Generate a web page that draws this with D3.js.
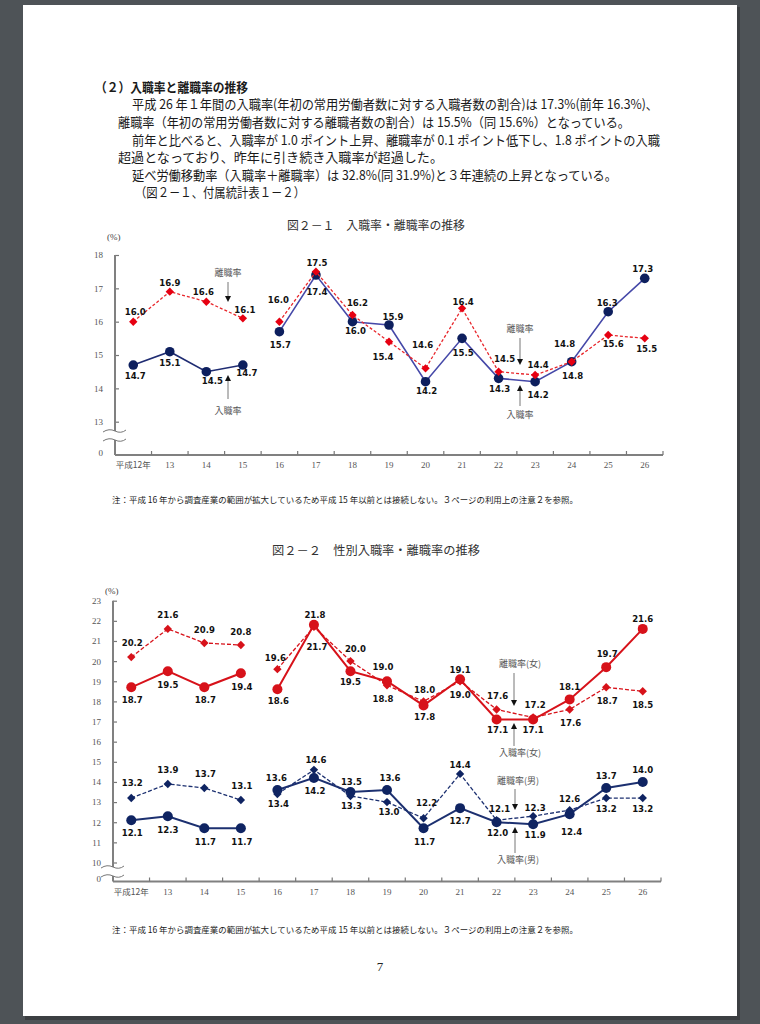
<!DOCTYPE html>
<html><head><meta charset="utf-8">
<script src="https://cdn.jsdelivr.net/npm/d3@7"></script>
<style>body{margin:0;background:#4e5357;} svg{display:block;}</style>
</head><body>
<svg id="c" width="760" height="1024"></svg>
<script>
// ---------------- data ----------------
const years = ["平成12年","13","14","15","16","17","18","19","20","21","22","23","24","25","26"];
const hireRate = [14.7,15.1,14.5,14.7,15.7,17.4,16.0,15.9,14.2,15.5,14.3,14.2,14.8,16.3,17.3];
const sepRate  = [16.0,16.9,16.6,16.1,16.0,17.5,16.2,15.4,14.6,16.4,14.5,14.4,14.8,15.6,15.5];
const hireFemale = [18.7,19.5,18.7,19.4,18.6,21.8,19.5,19.0,17.8,19.1,17.1,17.1,18.1,19.7,21.6];
const sepFemale  = [20.2,21.6,20.9,20.8,19.6,21.7,20.0,18.8,18.0,19.0,17.6,17.2,17.6,18.7,18.5];
const hireMale = [12.1,12.3,11.7,11.7,13.6,14.2,13.5,13.6,11.7,12.7,12.0,11.9,12.4,13.7,14.0];
const sepMale  = [13.2,13.9,13.7,13.1,13.4,14.6,13.3,13.0,12.2,14.4,12.1,12.3,12.6,13.2,13.2];
const ticks1 = [13,14,15,16,17,18];
const ticks2 = [10,11,12,13,14,15,16,17,18,19,20,21,22,23];
const segments = [[0,3],[4,14]]; // 15年以前と16年以降は接続しない

// ---------------- label layout (offsets from point) ----------------
const lab1Hire = [[2,11],[0,11],[6,9],[4,8],[1,13],[1,17],[3,9],[4,-8],[1,9],[1,14],[1,10],[3,13],[1,14],[-1,-9],[-2,-10]];
const lab1Sep  = [[2,-10],[0,-9],[-3,-10],[2,-9],[-1,-22],[1,-9],[5,-12],[-6,15],[-3,-24],[1,-7],[6,-13],[3,-10],[-7,-18],[5,9],[2,10]];
const lab2HireF = [[1,12],[0,13],[1,12],[1,13],[1,11],[1,-10],[0,10],[-4,-15],[1,11],[0,-10],[1,10],[0,10],[0,-13],[1,-13],[0,-10]];
const lab2SepF  = [[1,-14],[0,-14],[0,-13],[0,-13],[-2,-11],[3,20],[5,-12],[-4,13],[1,-12],[0,13],[1,-14],[2,-13],[1,13],[1,13],[0,13]];
const lab2HireM = [[1,12],[0,13],[1,13],[1,13],[-1,-12],[1,13],[1,-10],[3,-12],[1,13],[0,13],[1,10],[2,10],[2,18],[0,-12],[0,-12]];
const lab2SepM  = [[1,-15],[0,-14],[1,-14],[1,-14],[1,10],[2,-10],[1,10],[2,10],[3,-16],[0,-9],[3,-12],[2,-9],[0,-11],[0,11],[0,11]];

const svg = d3.select("#c");
const JP = "'Noto Sans CJK JP','Noto Sans',sans-serif";
const SERIF = "'Liberation Serif','DejaVu Serif',serif";
const LAB = "'DejaVu Sans Condensed','DejaVu Sans',sans-serif";

// page
svg.append("rect").attr("width",760).attr("height",1024).attr("fill","#4e5357");
svg.append("rect").attr("x",25).attr("y",7).attr("width",715).attr("height",1013).attr("fill","#3c3f42");
svg.append("rect").attr("x",23).attr("y",5).attr("width",714).attr("height",1011).attr("fill","#ffffff");

// body text
function txt(x,y,s,opt={}){
  const t = svg.append("text").attr("x",x).attr("y",y).text(s)
    .attr("font-family",opt.family||JP).attr("font-size",opt.size||13)
    .attr("fill",opt.fill||"#1a1a1a").attr("font-weight",opt.weight||"normal");
  if(opt.len){ t.attr("textLength",opt.len).attr("lengthAdjust","spacingAndGlyphs"); }
  if(opt.anchor) t.attr("text-anchor",opt.anchor);
  return t;
}
txt(95,92,"（２）入職率と離職率の推移",{weight:"bold",len:153});
txt(132,109,"平成 26 年１年間の入職率(年初の常用労働者数に対する入職者数の割合)は 17.3%(前年 16.3%)、",{len:526});
txt(118,127,"離職率（年初の常用労働者数に対する離職者数の割合）は 15.5%（同 15.6%）となっている。",{len:512});
txt(132,145,"前年と比べると、入職率が 1.0 ポイント上昇、離職率が 0.1 ポイント低下し、1.8 ポイントの入職",{len:528});
txt(118,162,"超過となっており、昨年に引き続き入職率が超過した。",{len:325});
txt(132,180,"延べ労働移動率（入職率＋離職率）は 32.8%(同 31.9%)と３年連続の上昇となっている。",{len:485});
txt(135,197,"（図２－１、付属統計表１－２）",{len:170});

txt(376,230,"図２－１　入職率・離職率の推移",{anchor:"middle",size:12,fill:"#333",len:178});
txt(376,555,"図２－２　性別入職率・離職率の推移",{anchor:"middle",size:12,fill:"#333",len:208});
txt(112,503,"注：平成 16 年から調査産業の範囲が拡大しているため平成 15 年以前とは接続しない。３ページの利用上の注意２を参照。",{size:8.5,len:466});
txt(112,933,"注：平成 16 年から調査産業の範囲が拡大しているため平成 15 年以前とは接続しない。３ページの利用上の注意２を参照。",{size:8.5,len:466});
txt(380,971,"7",{family:SERIF,size:13,anchor:"middle",fill:"#222"});

function diamondPath(s){ return `M0,${-s}L${s},0L0,${s}L${-s},0Z`; }

function arrow(g, x, y1, y2){
  const dir = y2 > y1 ? 1 : -1;
  g.append("line").attr("x1",x).attr("x2",x).attr("y1",y1).attr("y2",y2 - dir*5)
    .attr("stroke","#777").attr("stroke-width",1);
  g.append("path").attr("d",`M${x-3},${y2-dir*6}L${x+3},${y2-dir*6}L${x},${y2}Z`).attr("fill","#111");
}

function drawChart(cfg){
  const g = svg.append("g");
  const x = d3.scaleBand().domain(years).range(cfg.xRange).paddingInner(0).paddingOuter(0);
  const y = d3.scaleLinear().domain(cfg.yDomain).range(cfg.yRange);
  const x0 = cfg.xRange[0], axisY = cfg.axisY;
  const cx = i => x(years[i]) + x.bandwidth()/2;

  // (%) label
  g.append("text").attr("x",x0-8).attr("y",cfg.pctY).text("(%)")
    .attr("font-family",SERIF).attr("font-size",9).attr("fill","#444");

  // y axis ticks + labels
  const ya = g.append("g").attr("transform",`translate(${x0},0)`)
    .call(d3.axisLeft(y).tickValues(cfg.ticks).tickSizeInner(-4).tickSizeOuter(0).tickPadding(12).tickFormat(d3.format("d")));
  ya.select(".domain").remove();
  ya.selectAll("line").attr("stroke","#777").attr("stroke-width",1.2);
  ya.selectAll("text").attr("font-family",SERIF).attr("font-size",9).attr("fill","#555");
  g.append("text").attr("x",x0-12).attr("y",axisY-2).attr("dy","0.32em").attr("text-anchor","end")
    .text("0").attr("font-family",SERIF).attr("font-size",9).attr("fill","#555");
  // y axis line
  g.append("line").attr("x1",x0).attr("x2",x0).attr("y1",cfg.yRange[1]).attr("y2",axisY)
    .attr("stroke","#808080").attr("stroke-width",2);
  // break
  g.append("rect").attr("x",x0-3).attr("y",cfg.breaks[0]).attr("width",6).attr("height",cfg.breaks[1]-cfg.breaks[0]).attr("fill","#fff");
  cfg.breaks.forEach(by=>{
    g.append("path").attr("d",`M${x0-12},${by+1} Q${x0-6},${by-3} ${x0},${by} T${x0+11},${by-1}`)
      .attr("fill","none").attr("stroke","#777").attr("stroke-width",1);
  });

  // x axis
  g.append("line").attr("x1",x0).attr("x2",cfg.xRange[1]).attr("y1",axisY).attr("y2",axisY)
    .attr("stroke","#808080").attr("stroke-width",2);
  g.selectAll(".xt").data(years).join("line")
    .attr("x1",d=>x(d)+x.bandwidth()).attr("x2",d=>x(d)+x.bandwidth())
    .attr("y1",axisY).attr("y2",axisY-4).attr("stroke","#777").attr("stroke-width",1.2);
  const xa = g.append("g").attr("transform",`translate(0,${axisY})`)
    .call(d3.axisBottom(x).tickSize(0).tickPadding(7));
  xa.select(".domain").remove();
  xa.selectAll("text").attr("font-family",d=>d.length>2?JP:SERIF).attr("font-size",d=>d.length>2?8.5:9).attr("fill","#555");

  // series
  cfg.series.forEach(s=>{
    segments.forEach((seg,si)=>{
      const idx = d3.range(seg[0],seg[1]+1);
      g.append("path").datum(idx)
        .attr("d",d3.line().x(i=>cx(i)).y(i=>y(s.values[i])))
        .attr("fill","none").attr("stroke",(s.lineColors||[s.color,s.color])[si])
        .attr("stroke-width",s.width).attr("stroke-dasharray",s.dash||null);
    });
    const idxAll = d3.range(years.length);
    if(s.marker==="circle"){
      g.selectAll(null).data(idxAll).join("circle")
        .attr("cx",i=>cx(i)).attr("cy",i=>y(s.values[i])).attr("r",s.size).attr("fill",s.markColor);
    } else {
      g.selectAll(null).data(idxAll).join("path")
        .attr("transform",i=>`translate(${cx(i)},${y(s.values[i])})`)
        .attr("d",diamondPath(s.size)).attr("fill",s.markColor);
    }
  });
  // value labels
  cfg.series.forEach(s=>{
    g.selectAll(null).data(d3.range(years.length)).join("text")
      .attr("x",i=>cx(i)+s.labels[i][0]).attr("y",i=>y(s.values[i])+s.labels[i][1])
      .attr("dy","0.35em").attr("text-anchor","middle")
      .text(i=>d3.format(".1f")(s.values[i]))
      .attr("font-family",LAB).attr("font-weight","bold").attr("font-size",9.5).attr("fill","#111");
  });
  // annotations
  cfg.notes.forEach(n=>{
    g.append("text").attr("x",n.x).attr("y",n.y).attr("dy","0.35em").attr("text-anchor","middle")
      .text(n.text).attr("font-family",JP).attr("font-size",9).attr("fill","#555");
    arrow(g,n.ax,n.a1,n.a2);
  });
}

drawChart({
  xRange:[115,663], yDomain:[13,18], yRange:[421.7,255], axisY:455, ticks:ticks1, breaks:[431,440], pctY:240,
  series:[
    {values:hireRate, marker:"circle", size:4.8, markColor:"#0d1f5e", lineColors:["#1f2c72","#4548a8"], width:1.6, labels:lab1Hire},
    {values:sepRate, marker:"diamond", size:4.2, markColor:"#e60012", color:"#e8262b", width:1.3, dash:"3,2", labels:lab1Sep}
  ],
  notes:[
    {text:"離職率", x:228, y:273, ax:228, a1:282, a2:302},
    {text:"入職率", x:228, y:411, ax:228, a1:399, a2:375},
    {text:"離職率", x:520, y:329, ax:520, a1:338, a2:365},
    {text:"入職率", x:520, y:415, ax:520, a1:406, a2:385}
  ]
});

drawChart({
  xRange:[113,661], yDomain:[10,23], yRange:[862.5,600.7], axisY:881.5, ticks:ticks2, breaks:[867,876], pctY:594,
  series:[
    {values:hireFemale, marker:"circle", size:5, markColor:"#d7121a", color:"#d7121a", width:2, labels:lab2HireF},
    {values:sepFemale, marker:"diamond", size:4.2, markColor:"#d7121a", color:"#d7121a", width:1.3, dash:"4,2", labels:lab2SepF},
    {values:hireMale, marker:"circle", size:5, markColor:"#0f2462", color:"#1c3070", width:2, labels:lab2HireM},
    {values:sepMale, marker:"diamond", size:4.2, markColor:"#0f2462", color:"#1c3070", width:1.3, dash:"4,2", labels:lab2SepM}
  ],
  notes:[
    {text:"離職率(女)", x:520, y:664, ax:514, a1:673, a2:706},
    {text:"入職率(女)", x:520, y:753, ax:514, a1:746, a2:723},
    {text:"離職率(男)", x:518, y:781, ax:515, a1:789, a2:810},
    {text:"入職率(男)", x:518, y:860, ax:515, a1:853, a2:827}
  ]
});
</script>
</body></html>
